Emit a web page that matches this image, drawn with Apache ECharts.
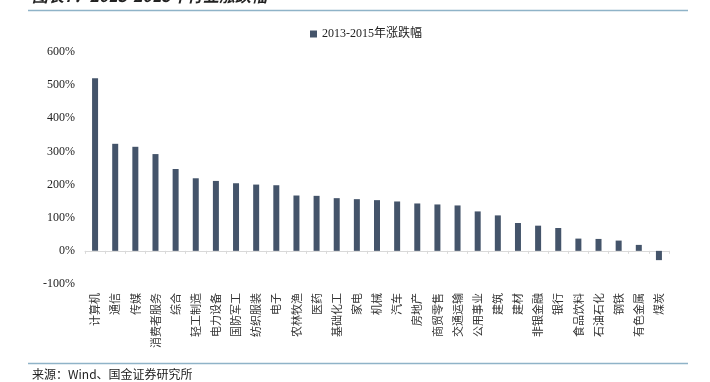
<!DOCTYPE html>
<html>
<head>
<meta charset="utf-8">
<script src="https://cdn.jsdelivr.net/npm/echarts@6/dist/echarts.min.js"></script>
<style>
  html, body { margin: 0; padding: 0; background: #fff; }
  #main { width: 710px; height: 382px; }
</style>
</head>
<body>
<div id="main"></div>
<script>
// 行业名称
var industries = ["计算机", "通信", "传媒", "消费者服务", "综合", "轻工制造", "电力设备", "国防军工",
    "纺织服装", "电子", "农林牧渔", "医药", "基础化工", "家电", "机械", "汽车", "房地产", "商贸零售",
    "交通运输", "公用事业", "建筑", "建材", "非银金融", "银行", "食品饮料", "石油石化", "钢铁", "有色金属", "煤炭"];
// 2013-2015年涨跌幅 (%)
var changes = [521, 323, 314, 292, 247, 219, 211, 204,
    200, 198, 167, 166, 159, 156, 153, 149, 143, 140,
    137, 119, 107, 84, 76, 69, 37, 36, 31, 18, -28];
var seriesName = "2013-2015年涨跌幅";
var yMin = -100, yMax = 600, yStep = 100;

var serif = "'Liberation Serif', 'Noto Sans CJK SC', serif";
var lineColor = "#8fb3c8";

var chart = echarts.init(document.getElementById("main"));
chart.setOption({
    animation: false,
    backgroundColor: "#fff",
    graphic: [
        {
            type: "text", left: 32, top: -12,
            style: { text: "图表7：2013-2015年行业涨跌幅", fontSize: 16, fontWeight: "bold",
                fontStyle: "italic", fontFamily: "'Noto Sans CJK SC', sans-serif", fill: "#222" }
        },
        { type: "line", shape: { x1: 28, y1: 10.5, x2: 688, y2: 10.5 }, style: { stroke: lineColor, lineWidth: 1.5 } },
        { type: "line", shape: { x1: 28, y1: 363.5, x2: 688, y2: 363.5 }, style: { stroke: lineColor, lineWidth: 1.5 } },
        {
            type: "text", left: 32, top: 368,
            style: { text: "来源：Wind、国金证券研究所", fontSize: 12,
                fontFamily: "'Noto Sans CJK SC', sans-serif", fill: "#222" }
        }
    ],
    legend: {
        top: 23,
        left: 305,
        itemWidth: 7,
        itemHeight: 7,
        itemGap: 4,
        icon: "rect",
        textStyle: { fontSize: 12, fontFamily: serif, color: "#222" },
        data: [seriesName]
    },
    grid: { left: 85, right: 41, top: 52, bottom: 98 },
    xAxis: {
        type: "category",
        data: industries,
        axisLine: { onZero: true, lineStyle: { color: "#d9d9d9", width: 1 } },
        axisTick: { show: true, length: 3, lineStyle: { color: "#d9d9d9" } },
        axisLabel: {
            rotate: 90, interval: 0, margin: 9,
            fontSize: 11, color: "#333",
            fontFamily: "'Noto Sans CJK SC', sans-serif"
        }
    },
    yAxis: {
        type: "value",
        min: yMin, max: yMax, interval: yStep,
        axisLine: { show: false },
        axisTick: { show: false },
        splitLine: { show: false },
        axisLabel: {
            formatter: "{value}%", margin: 10,
            fontSize: 12, color: "#222", fontFamily: serif
        }
    },
    series: [{
        name: seriesName,
        type: "bar",
        data: changes,
        barWidth: 6,
        itemStyle: { color: "#44546a" }
    }]
});
</script>
</body>
</html>
